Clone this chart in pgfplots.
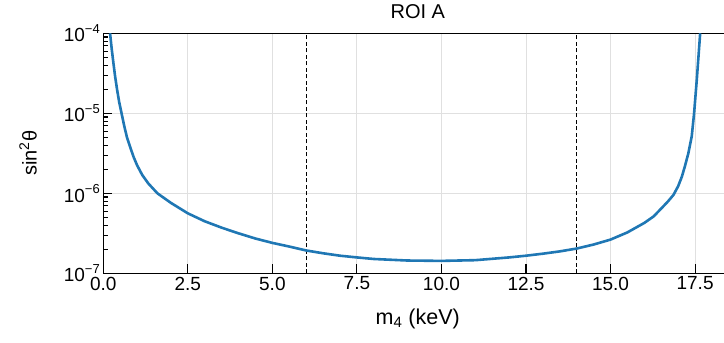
\documentclass[border=0pt]{standalone}
\usepackage{fontspec}
\setmainfont{Liberation Sans}
\usepackage{pgfplots}
\pgfplotsset{compat=1.18}
\definecolor{mplblue}{RGB}{31,119,180}
\newcommand{\pw}[1]{10\raisebox{0.45em}{\fontsize{13}{13}\selectfont −#1}}
\begin{document}
\begin{tikzpicture}
\begin{axis}[name=ax, scale only axis, width=629pt, height=240pt,
  ymode=log, xmin=0, xmax=18.6, ymin=1e-7, ymax=1e-4,
  xtick={0,2.5,5,7.5,10,12.5,15,17.5},
  xtick pos=left, ytick pos=left,
  ytick={1e-7,1e-6,1e-5,1e-4},
  yticklabels={\pw{7},\pw{6},\pw{5},\pw{4}},
  tick align=inside,
  major tick length=9pt, minor tick length=5pt,
  tick style={black, line width=1.1pt},
  axis line style={black, line width=1.4pt},
  grid=major, major grid style={black!12, line width=0.9pt},
  tick label style={font=\fontsize{19}{22}\selectfont},
  xticklabel style={/pgf/number format/.cd, fixed, fixed zerofill, precision=1, assume math mode=true},
  title={ROI A},
  title style={at={(axis description cs:0.5,1.0667)}, anchor=base, yshift=-7pt, font=\fontsize{20}{22}\selectfont},
  xlabel={m\textsubscript{4} (keV)},
  xlabel style={at={(axis description cs:0.5,-0.2125)}, anchor=base, font=\fontsize{21.5}{24}\selectfont},
  ylabel={sin\textsuperscript{2}θ},
  ylabel style={at={(axis description cs:-0.1197,0.5)}, anchor=center, font=\fontsize{20}{22}\selectfont},
]
\addplot[black, line width=1.1pt, dash pattern=on 4pt off 2.5pt] coordinates {(6,1e-7) (6,1e-4)};
\addplot[black, line width=1.1pt, dash pattern=on 4pt off 2.5pt] coordinates {(14,1e-7) (14,1e-4)};
\addplot[mplblue, line width=2.6pt, line join=round] coordinates {
(0.20,1e-4) (0.25,6.31e-5) (0.30,4.22e-5) (0.35,2.88e-5) (0.41,1.95e-5)
(0.47,1.38e-5) (0.54,1e-5) (0.62,6.92e-6) (0.70,5.01e-6) (0.80,3.72e-6)
(0.90,2.82e-6) (1.0,2.24e-6) (1.15,1.70e-6) (1.33,1.33e-6) (1.6,1e-6)
(2.0,7.59e-7) (2.5,5.62e-7) (3.0,4.47e-7) (3.5,3.72e-7) (4.0,3.16e-7)
(4.5,2.72e-7) (5.0,2.40e-7) (5.5,2.16e-7) (6.0,1.93e-7) (6.5,1.78e-7)
(7.0,1.66e-7) (7.5,1.58e-7) (8.0,1.51e-7) (9.0,1.445e-7) (10.0,1.43e-7)
(11.0,1.46e-7) (12.0,1.58e-7) (12.5,1.66e-7) (13.0,1.76e-7) (13.5,1.88e-7)
(14.0,2.04e-7) (14.5,2.29e-7) (15.0,2.64e-7) (15.5,3.25e-7)
(16.0,4.27e-7) (16.27,5.13e-7) (16.5,6.46e-7) (16.7,7.94e-7) (16.86,9.55e-7)
(17.0,1.23e-6) (17.11,1.62e-6) (17.2,2.19e-6) (17.3,3.16e-6) (17.40,5.13e-6)
(17.47,1e-5) (17.55,2.63e-5) (17.65,1e-4)
};
\end{axis}
\pgfresetboundingbox
\path[use as bounding box] ([xshift=-103.3pt, yshift=-68.7pt]ax.south west) rectangle ([xshift=620.7pt, yshift=33.3pt]ax.north west);
\end{tikzpicture}
\end{document}
